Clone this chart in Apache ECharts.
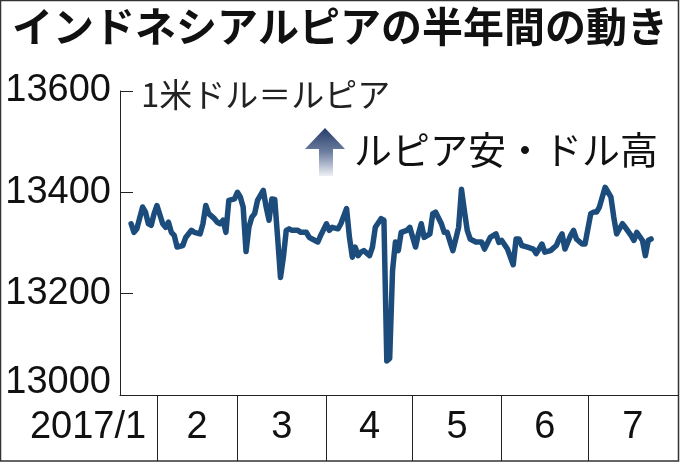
<!DOCTYPE html>
<html>
<head>
<meta charset="utf-8">
<script src="https://cdn.jsdelivr.net/npm/echarts@6/dist/echarts.min.js"></script>
<style>
html,body{margin:0;padding:0;background:#fff;}
#chart{width:680px;height:462px;}
</style>
</head>
<body>
<div id="chart"></div>
<script>
// Day numbers (days since 2017-01-01) and rupiah per US dollar
var days = [22,23,24,26,27,28,29,30,31,33,34,35,36,37,38,40,41,43,44,46,47,48,49,51,52,53,54,55,56,58,59,60,61,62,63,64,65,66,68,69,70,71,72,73,74,75,76,77,78,80,81,83,84,85,87,88,90,91,92,94,95,97,98,99,100,101,102,103,105,106,107,109,110,111,112,113,114,115,116,118,119,121,122,123,124,126,127,128,130,131,132,134,136,137,138,139,140,142,144,145,147,149,150,151,153,155,156,157,158,160,162,163,165,166,168,170,171,172,173,175,176,177,179,180,182,183,184,185,187,189,190,191,193,194,196,197,198,200,201,202,203];
var values = [13338,13321,13328,13371,13361,13338,13335,13358,13374,13338,13331,13341,13321,13315,13292,13295,13311,13325,13321,13318,13338,13374,13358,13348,13341,13338,13345,13321,13384,13387,13400,13391,13371,13283,13331,13351,13358,13384,13404,13371,13345,13387,13386,13311,13232,13272,13325,13328,13325,13325,13321,13321,13311,13308,13302,13315,13338,13325,13331,13328,13338,13368,13311,13272,13292,13275,13282,13285,13275,13292,13331,13348,13345,13067,13072,13246,13302,13285,13321,13325,13331,13292,13318,13338,13311,13318,13358,13361,13338,13321,13321,13285,13331,13406,13364,13325,13308,13302,13302,13288,13311,13318,13301,13305,13288,13257,13308,13308,13295,13292,13288,13279,13298,13282,13285,13295,13308,13318,13288,13315,13325,13308,13298,13298,13358,13361,13361,13371,13410,13391,13351,13318,13338,13331,13315,13305,13321,13305,13275,13305,13308];
var monthStarts = [31,59,90,120,151,181];
var monthCenters = [7,45,74.5,105,135.5,166,196.6];
var monthLabels = ['2017/1','2','3','4','5','6','7'];
var yTicks = [13000,13200,13400,13600];
var titleText = 'インドネシアルピアの半年間の動き';
var unitText = '1米ドル＝ルピア';
var noteText = 'ルピア安・ドル高';

var numFont = '"Liberation Sans",Arial,sans-serif';
var cjkFont = '"Noto Sans CJK JP","Noto Sans",sans-serif';

var chart = echarts.init(document.getElementById('chart'), null, {renderer:'canvas'});
var seriesData = days.map(function(d,i){return [d, values[i]];});

chart.setOption({
  animation:false,
  backgroundColor:'#fff',
  grid:[
    {left:120, right:2, top:91, bottom:67, outerBoundsMode:'none', containLabel:false},
    {left:0, right:2, top:395, bottom:1, outerBoundsMode:'none', containLabel:false}
  ],
  xAxis:[
    {gridIndex:0, type:'value', min:18.13, max:212.36,
     axisLine:{show:true, lineStyle:{color:'#222', width:1}},
     axisTick:{show:false}, axisLabel:{show:false}, splitLine:{show:false}},
    {gridIndex:1, type:'value', min:-23.63, max:212.36, position:'bottom',
     axisLine:{show:false}, splitLine:{show:false},
     axisTick:{show:true, inside:true, length:66, customValues:monthStarts,
               lineStyle:{color:'#222', width:1}},
     axisLabel:{show:true, inside:true, margin:33, verticalAlign:'middle',
                customValues:monthCenters, fontFamily:numFont, fontSize:38, color:'#111',
                formatter:function(v){var i=monthCenters.indexOf(v);return i>=0?monthLabels[i]:'';}}}
  ],
  yAxis:[
    {gridIndex:0, type:'value', min:yTicks[0], max:yTicks[yTicks.length-1], interval:200,
     axisLine:{show:true, lineStyle:{color:'#222', width:1}},
     axisTick:{show:true, inside:true, length:13, lineStyle:{color:'#222', width:1}},
     splitLine:{show:false},
     axisLabel:{show:true, margin:9, fontFamily:numFont, fontSize:38, color:'#111',
       formatter:function(v){return v===yTicks[0] ? '{lo|'+v+'}' : '{n|'+v+'}';},
       rich:{n:{fontFamily:numFont, fontSize:38, color:'#111'},
             lo:{fontFamily:numFont, fontSize:38, color:'#111', padding:[0,0,24,0]}}}},
    {gridIndex:1, type:'value', show:false}
  ],
  series:[{
    type:'line', xAxisIndex:0, yAxisIndex:0, data:seriesData,
    showSymbol:false, smooth:false,
    lineStyle:{color:'#1b4c7c', width:5.5, join:'round', cap:'round'}
  }],
  graphic:[
    {type:'rect', shape:{x:0.5, y:0.5, width:678, height:460.5},
     style:{fill:null, stroke:'#333', lineWidth:1.5}, silent:true},
    {type:'text', left:'center', top:6,
     style:{text:titleText, font:'bold 41px '+cjkFont, fill:'#111'}},
    {type:'text', x:141, y:94,
     style:{text:unitText, font:'33px '+cjkFont, fill:'#222', verticalAlign:'middle'}},
    {type:'polygon', shape:{points:[[325,128],[345,149],[333,149],[333,176],[319,176],[319,149],[305,149]]},
     style:{fill:new echarts.graphic.LinearGradient(0,0,0,1,[{offset:0,color:'#263c68'},{offset:0.5,color:'#6d7ea0'},{offset:1,color:'#eef0f5'}])}},
    {type:'text', x:354, y:150,
     style:{text:noteText, font:'38px '+cjkFont, fill:'#111', verticalAlign:'middle'}}
  ]
});
</script>
</body>
</html>
